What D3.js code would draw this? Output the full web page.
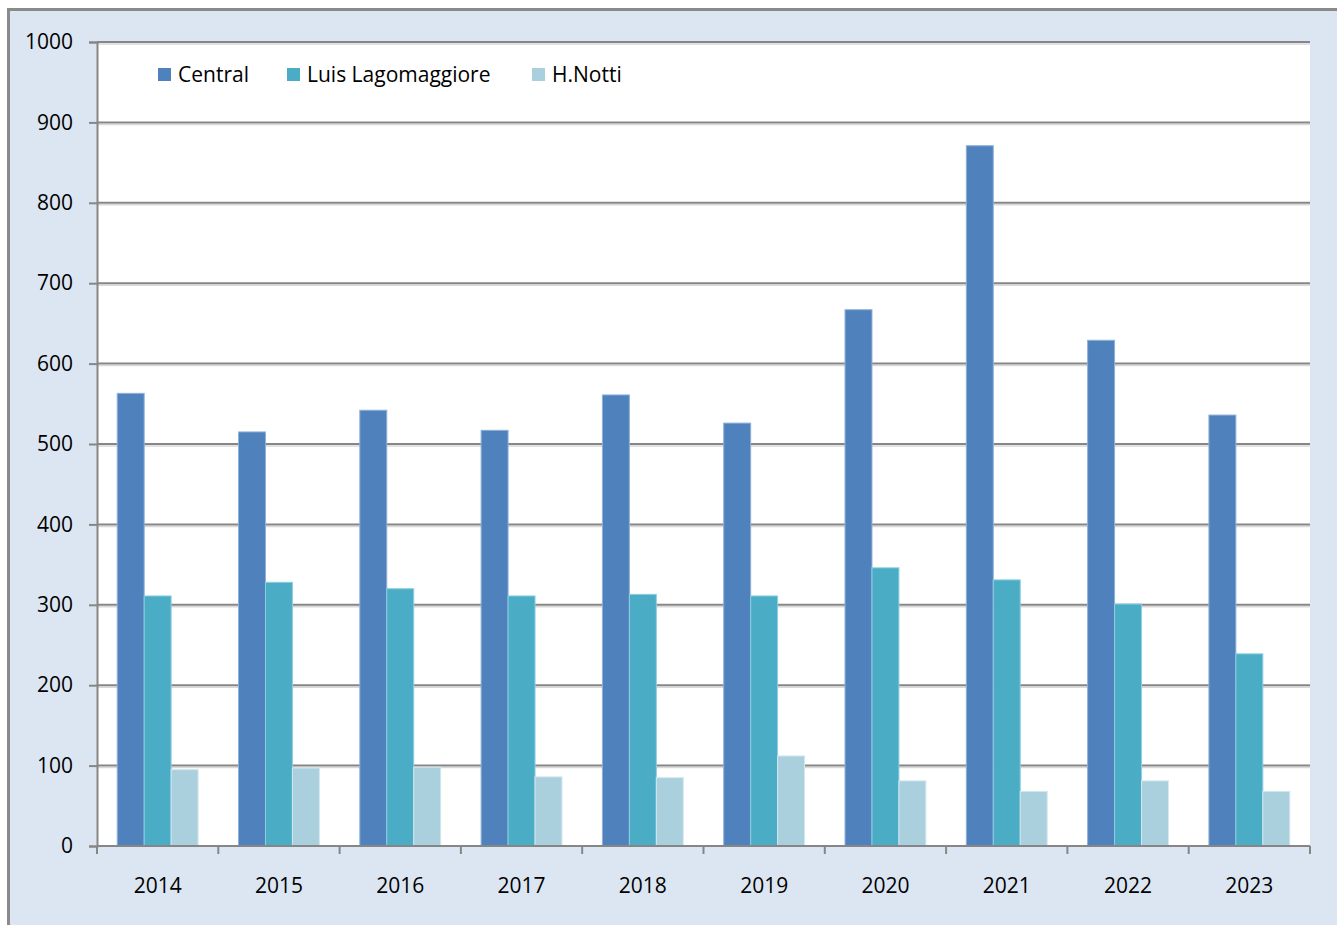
<!DOCTYPE html>
<html>
<head>
<meta charset="utf-8">
<script src="https://cdn.jsdelivr.net/npm/d3@7"></script>
<style>
  html, body { margin: 0; padding: 0; background: #ffffff; }
  svg { display: block; }
</style>
</head>
<body>
<div id="chart"></div>
<script>
// data
const years = ["2014", "2015", "2016", "2017", "2018", "2019", "2020", "2021", "2022", "2023"];
const seriesNames = ["Central", "Luis Lagomaggiore", "H.Notti"];
const central = [563, 515, 542, 517, 561, 526, 667, 871, 629, 536];
const lagomaggiore = [311, 328, 320, 311, 313, 311, 346, 331, 301, 239];
const notti = [95, 97, 98, 86, 85, 112, 81, 68, 81, 68];
const yTicks = [0, 100, 200, 300, 400, 500, 600, 700, 800, 900, 1000];

const seriesValues = [central, lagomaggiore, notti];
const colors = ["#4f81bd", "#4bacc6", "#aacfdd"];
const strokes = ["#8fb0d8", "#8ccfe0", "#d3e8ef"];

const W = 1337, H = 925;
const margin = { top: 42, right: 27, bottom: 79, left: 97 };
const width = W - margin.left - margin.right;
const height = H - margin.top - margin.bottom;
const font = "'Open Sans', 'Noto Sans', sans-serif";
const fontSize = "21px";

const svg = d3.select("#chart").append("svg")
  .attr("width", W)
  .attr("height", H);

// outer chart frame
svg.append("rect")
  .attr("x", 8.5).attr("y", 9.5)
  .attr("width", W).attr("height", H)
  .attr("fill", "#dce6f2")
  .attr("stroke", "#8a8a8a")
  .attr("stroke-width", 3);

const g = svg.append("g")
  .attr("transform", `translate(${margin.left},${margin.top})`);

// plot area
g.append("rect")
  .attr("width", width).attr("height", height)
  .attr("fill", "#ffffff");

const x0 = d3.scaleBand()
  .domain(years)
  .range([0, width])
  .paddingInner(0)
  .paddingOuter(0);

// Excel-like gap: group of 3 bars, gap = 1.5 bar widths
const barW = x0.bandwidth() / 4.5;
const x1 = d3.scaleBand()
  .domain(seriesNames)
  .range([barW * 0.75, barW * 3.75]);

const y = d3.scaleLinear()
  .domain([0, 1000])
  .range([height, 0]);

// gridlines with a faint shadow
const grid = g.append("g");
grid.selectAll("line.shadow")
  .data(yTicks.filter(d => d > 0))
  .enter().append("line")
  .attr("class", "shadow")
  .attr("x1", 0).attr("x2", width)
  .attr("y1", d => y(d) + 2).attr("y2", d => y(d) + 2)
  .attr("stroke", "#d9d9d9")
  .attr("stroke-width", 1.5);
grid.selectAll("line.main")
  .data(yTicks.filter(d => d > 0))
  .enter().append("line")
  .attr("class", "main")
  .attr("x1", 0).attr("x2", width)
  .attr("y1", d => y(d)).attr("y2", d => y(d))
  .attr("stroke", "#868686")
  .attr("stroke-width", 2);

// bars
seriesNames.forEach((name, si) => {
  g.append("g")
    .selectAll("rect")
    .data(years.map((yr, i) => ({ yr, v: seriesValues[si][i] })))
    .enter().append("rect")
    .attr("x", d => x0(d.yr) + x1(name))
    .attr("y", d => y(d.v))
    .attr("width", x1.bandwidth())
    .attr("height", d => height - y(d.v))
    .attr("fill", colors[si])
    .attr("stroke", strokes[si])
    .attr("stroke-width", 1);
});

// y axis
const yAxis = g.append("g")
  .call(d3.axisLeft(y).tickValues(yTicks).tickFormat(d3.format("d")).tickSize(8).tickPadding(16));
yAxis.select(".domain").attr("stroke", "#868686").attr("stroke-width", 2);
yAxis.selectAll(".tick line").attr("stroke", "#868686").attr("stroke-width", 2);
yAxis.selectAll("text")
  .attr("font-family", font)
  .attr("font-size", fontSize)
  .attr("fill", "#000");

// x axis with ticks between categories
const xAxis = g.append("g")
  .attr("transform", `translate(0,${height})`);
xAxis.append("line")
  .attr("x1", 0).attr("x2", width)
  .attr("stroke", "#868686").attr("stroke-width", 2);
xAxis.selectAll("line.tick")
  .data(years.concat(["end"]))
  .enter().append("line")
  .attr("class", "tick")
  .attr("x1", (d, i) => i * x0.bandwidth())
  .attr("x2", (d, i) => i * x0.bandwidth())
  .attr("y1", 0).attr("y2", 8)
  .attr("stroke", "#868686").attr("stroke-width", 2);
xAxis.selectAll("text")
  .data(years)
  .enter().append("text")
  .attr("x", d => x0(d) + x0.bandwidth() / 2)
  .attr("y", 47)
  .attr("text-anchor", "middle")
  .attr("font-family", font)
  .attr("font-size", fontSize)
  .attr("fill", "#000")
  .text(d => d);

// legend
const legendX = [158, 287, 532];
const legend = svg.append("g");
seriesNames.forEach((name, i) => {
  legend.append("rect")
    .attr("x", legendX[i]).attr("y", 68)
    .attr("width", 13).attr("height", 13)
    .attr("fill", colors[i]);
  legend.append("text")
    .attr("x", legendX[i] + 20).attr("y", 82)
    .attr("font-family", font)
    .attr("font-size", fontSize)
    .attr("fill", "#000")
    .text(name);
});
</script>
</body>
</html>
